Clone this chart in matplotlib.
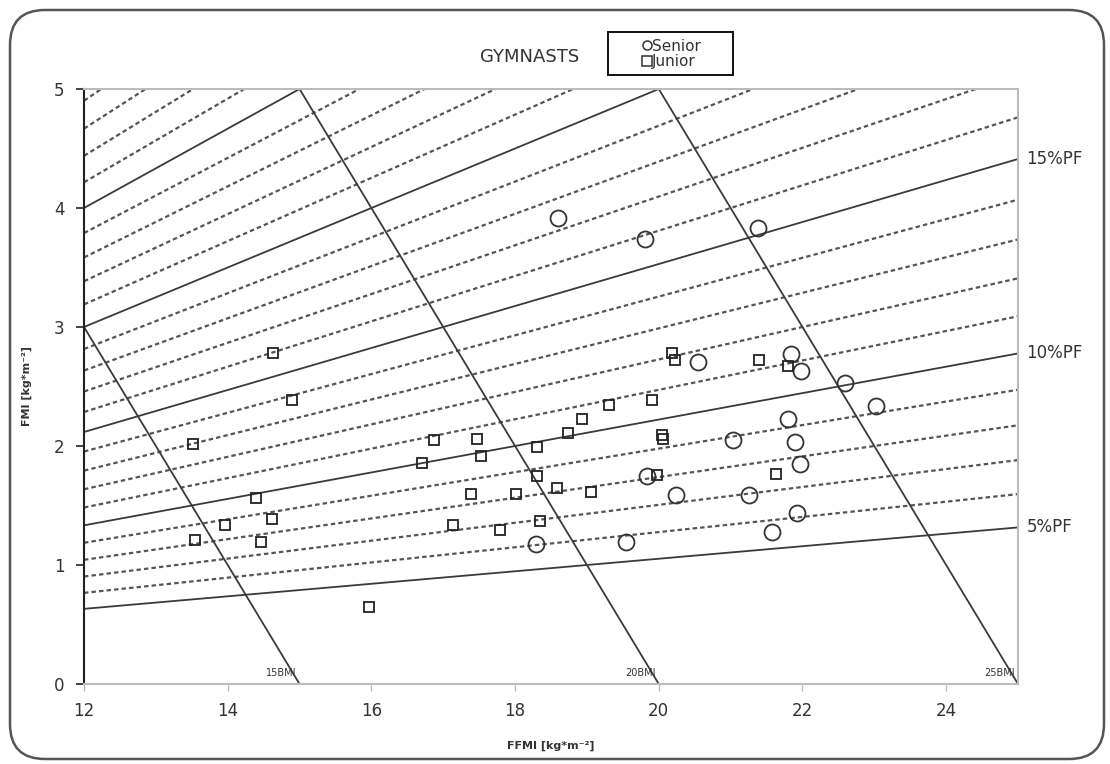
import matplotlib
matplotlib.use("Agg")
import matplotlib.pyplot as plt
import numpy as np
from matplotlib.lines import Line2D
from matplotlib.patches import FancyBboxPatch, Rectangle

# ---- data ----
senior_ffmi = [18.60, 19.81, 21.38, 20.54, 21.84, 21.98, 22.59, 23.02, 21.03, 21.80,
               21.89, 21.97, 19.83, 20.24, 21.25, 21.92, 21.57, 18.29, 19.54]
senior_fmi = [3.92, 3.74, 3.83, 2.71, 2.77, 2.63, 2.53, 2.34, 2.05, 2.23,
              2.03, 1.85, 1.75, 1.59, 1.59, 1.44, 1.275, 1.18, 1.196]

junior_ffmi = [14.63, 14.90, 13.52, 16.70, 16.87, 14.39, 14.61, 13.96, 13.55, 14.47,
               15.97, 20.18, 20.23, 19.90, 19.31, 18.93, 18.74, 17.47, 20.04, 20.06,
               18.30, 17.53, 18.30, 19.98, 18.58, 17.39, 18.01, 19.06, 17.14, 17.79,
               18.35, 21.39, 21.80, 21.63]
junior_fmi = [2.78, 2.39, 2.02, 1.855, 2.05, 1.56, 1.39, 1.336, 1.21, 1.19,
              0.65, 2.78, 2.72, 2.39, 2.345, 2.23, 2.11, 2.06, 2.09, 2.06,
              1.99, 1.92, 1.75, 1.76, 1.65, 1.60, 1.60, 1.61, 1.336, 1.29,
              1.37, 2.72, 2.675, 1.765]

pf_solid = [5, 10, 15, 20, 25]
pf_dotted = [p for p in range(6, 30) if p % 5 != 0]
pf_labels = [5, 10, 15]
bmi_values = [15, 20, 25]

x_ticks = [12, 14, 16, 18, 20, 22, 24]
y_ticks = [0, 1, 2, 3, 4, 5]

# ---- figure ----
W, H = 1110, 764
fig = plt.figure(figsize=(W / 100, H / 100), dpi=100)
fig.patch.set_facecolor("white")

ax = fig.add_axes([84 / W, 1 - 684 / H, (1018 - 84) / W, (684 - 89) / H])
ax.set_xlim(12, 25)
ax.set_ylim(0, 5)

xx = np.linspace(12, 25, 200)
line_col = "#3a3a3a"
for p in pf_dotted:
    r = p / (100 - p)
    ax.plot(xx, xx * r, color="#555555", lw=1.6, ls=(0, (2.0, 1.4)), zorder=1)
for p in pf_solid:
    r = p / (100 - p)
    ax.plot(xx, xx * r, color=line_col, lw=1.3, zorder=2)

xb = np.linspace(10, 26, 50)
for b in bmi_values:
    ax.plot(xb, b - xb, color=line_col, lw=1.3, zorder=2)
    ax.text(b - 0.04, 0.05, f"{b}BMI", fontsize=7, ha="right", va="bottom",
            color="#333333", zorder=3)

for p in pf_labels:
    r = p / (100 - p)
    ax.annotate(f"{p}%PF", xy=(25, 25 * r), xytext=(6, 0), textcoords="offset points",
                ha="left", va="center", fontsize=12, color="#333333",
                annotation_clip=False)

ax.plot(senior_ffmi, senior_fmi, ls="none", marker="o", ms=11.5, mfc="none",
        mec="#333333", mew=1.3, zorder=5)
ax.plot(junior_ffmi, junior_fmi, ls="none", marker="s", ms=7, mfc="none",
        mec="#222222", mew=1.3, zorder=5)

ax.set_xticks(x_ticks)
ax.set_yticks(y_ticks)
ax.tick_params(axis="x", colors="#bbbbbb", length=5, width=1, labelcolor="#333333",
               labelsize=12, pad=8)
ax.tick_params(axis="y", colors="#222222", length=6, width=1.2, labelcolor="#333333",
               labelsize=12, pad=8)
for s in ["top", "right", "bottom"]:
    ax.spines[s].set_color("#bbbbbb")
    ax.spines[s].set_linewidth(1.5)
ax.spines["left"].set_color("#222222")
ax.spines["left"].set_linewidth(1.5)

ax.set_xlabel("FFMI [kg*m\u207b\u00b2]", fontsize=8, fontweight="bold", color="#333333",
              labelpad=15)
ax.set_ylabel("FMI [kg*m\u207b\u00b2]", fontsize=8, fontweight="bold", color="#333333",
              labelpad=16)

# title / legend
fig.text(530 / W, 1 - 57 / H, "GYMNASTS", fontsize=13, ha="center", va="center",
         color="#333333")
fig.patches.append(Rectangle((608 / W, 1 - 75 / H), 125 / W, 43 / H,
                             transform=fig.transFigure, fill=False,
                             edgecolor="#111111", lw=1.4))
handles = [Line2D([], [], ls="none", marker="o", ms=6.5, mfc="none", mec="#333333", mew=1.1),
           Line2D([], [], ls="none", marker="s", ms=6.5, mfc="none", mec="#333333", mew=1.1)]
leg = fig.legend(handles, ["Senior", "Junior"], loc="center",
                 bbox_to_anchor=(672 / W, 1 - 54 / H), fontsize=11, frameon=False,
                 handlelength=0.5, handletextpad=0.05,
                 labelspacing=0.05, borderpad=0, borderaxespad=0)
for t in leg.get_texts():
    t.set_color("#333333")

# rounded border of the figure
border = FancyBboxPatch((0.1, 0.05), 10.94, 7.49, boxstyle="round,pad=0,rounding_size=0.35",
                        transform=fig.dpi_scale_trans, fill=False, edgecolor="#555555",
                        lw=1.8, zorder=-1)
fig.patches.append(border)

fig.savefig("out.png", dpi=100)
